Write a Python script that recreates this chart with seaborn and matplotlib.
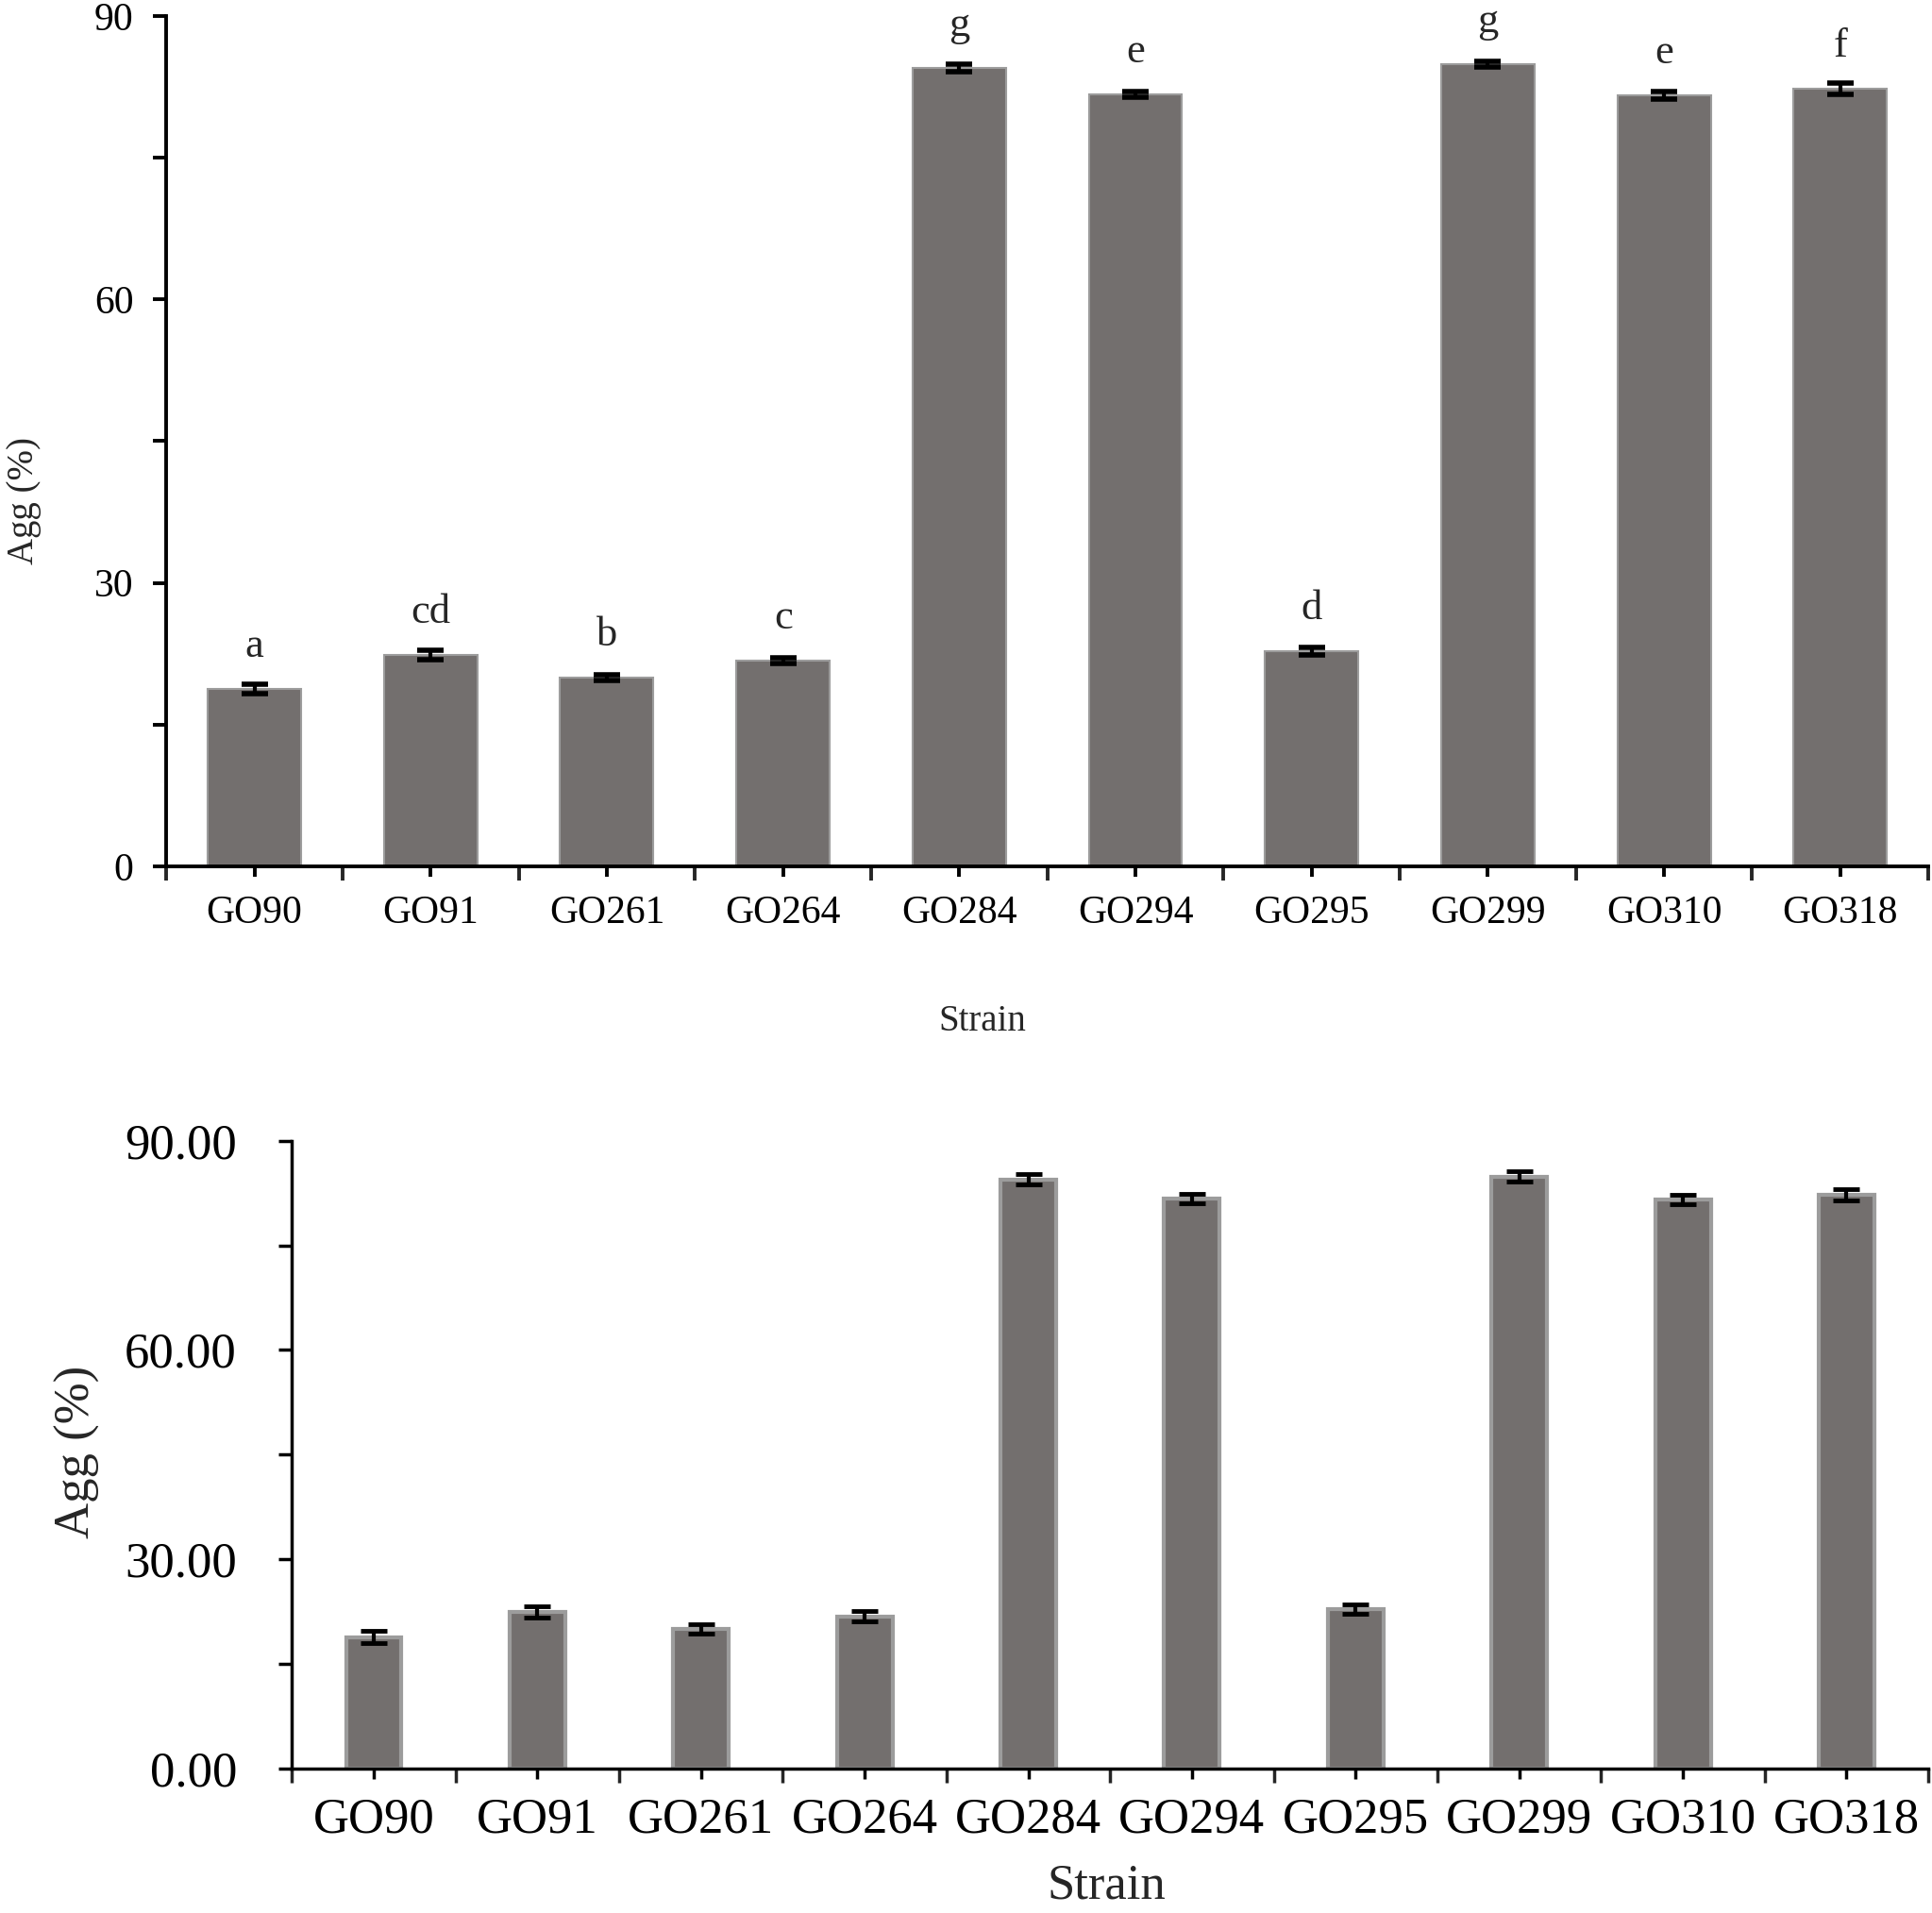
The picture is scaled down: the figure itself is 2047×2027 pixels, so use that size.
import pandas as pd
import matplotlib.pyplot as plt
import seaborn as sns
import numpy as np
from matplotlib.ticker import MultipleLocator, FixedLocator

sns.set_style("ticks")
plt.rcParams['font.family'] = ['Liberation Serif', 'DejaVu Serif']

strains = ['GO90', 'GO91', 'GO261', 'GO264', 'GO284', 'GO294', 'GO295', 'GO299', 'GO310', 'GO318']
agg = [18.8, 22.4, 20.0, 21.8, 84.5, 81.7, 22.8, 84.9, 81.6, 82.3]
agg_err_top = [0.5, 0.5, 0.3, 0.3, 0.4, 0.3, 0.4, 0.3, 0.4, 0.6]
agg_err_bottom = [0.9, 0.8, 0.7, 0.7, 0.8, 0.7, 0.7, 0.7, 0.7, 0.8]
letters = ['a', 'cd', 'b', 'c', 'g', 'e', 'd', 'g', 'e', 'f']

df = pd.DataFrame({'strain': strains, 'agg': agg})

bar_color = '#736f6e'
edge_color = '#9c9c9c'

fig = plt.figure(figsize=(20.47, 20.27), dpi=100)
ax1 = fig.add_axes([0.0861, 0.5472, 0.912, 0.4444])
ax2 = fig.add_axes([0.1511, 0.0757, 0.847, 0.3279])


def style_axis(ax, tick_fs, ypad, xpad, lw):
    sns.despine(ax=ax)
    for s in ['left', 'bottom']:
        ax.spines[s].set_linewidth(lw)
        ax.spines[s].set_color('black')
    ax.set_xlim(-0.5, len(strains) - 0.5)
    ax.set_ylim(0, 90)
    ax.yaxis.set_major_locator(MultipleLocator(30))
    ax.yaxis.set_minor_locator(MultipleLocator(15))
    ax.xaxis.set_minor_locator(FixedLocator(np.arange(-0.5, len(strains), 1.0)))
    ax.tick_params(axis='y', which='both', direction='out', length=10, width=lw,
                   labelsize=tick_fs, pad=ypad, colors='black')
    ax.tick_params(axis='x', which='major', direction='out', length=8, width=lw,
                   labelsize=tick_fs, pad=xpad, colors='black')
    ax.tick_params(axis='x', which='minor', direction='out', length=11, width=lw)


# top panel
sns.barplot(data=df, x='strain', y='agg', ax=ax1, color=bar_color, width=0.53,
            edgecolor=edge_color, linewidth=1.5, saturation=1)
ax1.errorbar(np.arange(len(strains)), agg, yerr=agg_err_top, fmt='none',
             ecolor='black', elinewidth=3, capsize=10, capthick=4)
for i, (v, lab) in enumerate(zip(agg, letters)):
    ax1.text(i, v + 4.5, lab, ha='center', va='center', fontsize=32, clip_on=False)
style_axis(ax1, 30, 15, 14, 2.8)
ax1.yaxis.set_major_formatter(plt.FuncFormatter(lambda v, p: f"{v:.0f}"))
ax1.set_ylabel('Agg (%)', fontsize=28)
ax1.yaxis.set_label_coords(-0.071, 0.43)
ax1.set_xlabel('Strain', fontsize=28)
ax1.xaxis.set_label_coords(0.463, -0.162)

# bottom panel
sns.barplot(data=df, x='strain', y='agg', ax=ax2, color=bar_color, width=0.34,
            edgecolor=edge_color, linewidth=3, saturation=1)
ax2.errorbar(np.arange(len(strains)), agg, yerr=agg_err_bottom, fmt='none',
             ecolor='black', elinewidth=3, capsize=10, capthick=3.5)
style_axis(ax2, 38, 32, 14, 2.5)
ax2.yaxis.set_major_formatter(plt.FuncFormatter(lambda v, p: f"{v:.2f}"))
ax2.set_ylabel('Agg (%)', fontsize=38)
ax2.yaxis.set_label_coords(-0.117, 0.505)
ax2.set_xlabel('Strain', fontsize=38)
ax2.xaxis.set_label_coords(0.498, -0.152)

fig.savefig('out.png', dpi=100, facecolor='white')
